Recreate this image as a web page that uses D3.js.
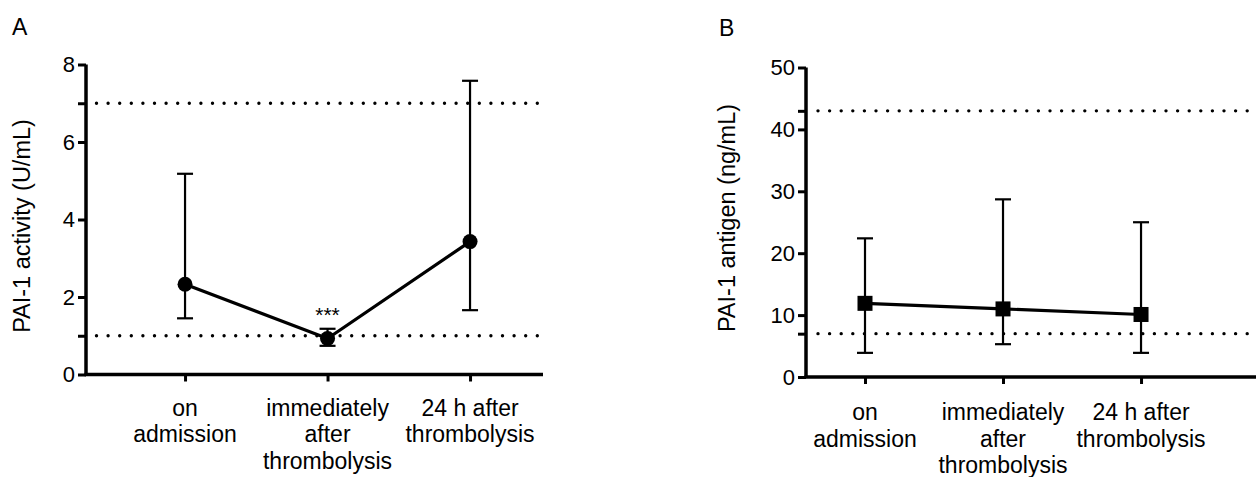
<!DOCTYPE html>
<html>
<head>
<meta charset="utf-8">
<script src="https://cdn.jsdelivr.net/npm/d3@7/dist/d3.min.js"></script>
<style>
  html, body { margin: 0; padding: 0; background: #fff; }
  svg { display: block; }
  text { font-family: "Liberation Sans", Arial, Helvetica, sans-serif; fill: #000; }
</style>
</head>
<body>
<svg id="chart" width="1257" height="477"></svg>
<script>
// ---- Data ----
const categories = [
  ["on", "admission"],
  ["immediately", "after", "thrombolysis"],
  ["24 h after", "thrombolysis"]
];

// Panel A: PAI-1 activity (U/mL)
const activityMean  = [2.33, 0.93, 3.43];
const activityLower = [1.45, 0.74, 1.66];
const activityUpper = [5.18, 1.18, 7.58];
const activityTicks = [0, 2, 4, 6, 8];
const activityRef   = [1, 7];

// Panel B: PAI-1 antigen (ng/mL)
const antigenMean  = [11.9, 11.0, 10.1];
const antigenLower = [3.9, 5.3, 3.9];
const antigenUpper = [22.4, 28.7, 25.0];
const antigenTicks = [0, 10, 20, 30, 40, 50];
const antigenRef   = [7, 43];

const svg = d3.select("#chart");

function panel(opts) {
  const g = svg.append("g");
  const x = d3.scaleLinear().domain(opts.xDomain).range(opts.xRange);
  const y = d3.scaleLinear().domain(opts.yDomain).range(opts.yRange);
  const xl = opts.xRange[0];

  // reference dotted lines
  opts.ref.forEach(v => {
    g.append("line")
      .attr("x1", xl + opts.dotStart).attr("x2", opts.xRange[1] - opts.dotEndPad)
      .attr("y1", y(v)).attr("y2", y(v))
      .attr("stroke", "#000").attr("stroke-width", 3.4)
      .attr("stroke-linecap", "round")
      .attr("stroke-dasharray", "0 11.6");
  });

  // y axis
  const yAxis = d3.axisLeft(y).tickValues(opts.yTicks).tickSize(8).tickPadding(3).tickSizeOuter(0);
  const ya = g.append("g").attr("transform", `translate(${xl},0)`).call(yAxis);
  ya.select(".domain").attr("stroke-width", 3.5).attr("d", `M0,${y(opts.yDomain[1])}V${y(0)}`);
  ya.selectAll(".tick line").attr("stroke-width", 3);
  ya.selectAll(".tick text").style("font-size", "22px").attr("fill", "#000");
  // ticks at reference levels
  const ra = g.append("g").attr("transform", `translate(${xl},0)`)
    .call(d3.axisLeft(y).tickValues(opts.ref).tickSize(8).tickFormat(""));
  ra.select(".domain").remove();
  ra.selectAll(".tick line").attr("stroke-width", 3);

  // x axis
  const xAxis = d3.axisBottom(x).tickValues([0, 1, 2]).tickSize(7).tickFormat("").tickSizeOuter(0);
  const xa = g.append("g").attr("transform", `translate(0,${y(0)})`).call(xAxis);
  xa.select(".domain").attr("stroke-width", 3.5).attr("d", `M${opts.xRange[0] - 1.5},0H${opts.xRange[1]}`);
  xa.selectAll(".tick line").attr("stroke-width", 3);

  // x category labels
  categories.forEach((lines, i) => {
    const t = g.append("text")
      .attr("x", x(i)).attr("y", y(0) + opts.labelOffset)
      .attr("text-anchor", "middle")
      .style("font-size", "23px");
    lines.forEach((ln, k) => {
      t.append("tspan").attr("x", x(i)).attr("dy", k === 0 ? 0 : 26.6).text(ln);
    });
  });

  // y title
  g.append("text")
    .attr("transform", `translate(${opts.titleX},${opts.titleY}) rotate(-90)`)
    .attr("text-anchor", "middle")
    .style("font-size", "23.5px")
    .text(opts.title);

  // panel letter
  g.append("text").attr("x", opts.letterX).attr("y", opts.letterY)
    .style("font-size", "23px").text(opts.letter);

  // error bars
  const idx = [0, 1, 2];
  const eb = g.append("g").attr("stroke", "#000").attr("stroke-width", 2.2);
  eb.selectAll("line.v").data(idx).join("line")
    .attr("x1", i => x(i)).attr("x2", i => x(i))
    .attr("y1", i => y(opts.lower[i])).attr("y2", i => y(opts.upper[i]));
  eb.selectAll("line.cu").data(idx).join("line")
    .attr("x1", i => x(i) - 8).attr("x2", i => x(i) + 8)
    .attr("y1", i => y(opts.upper[i])).attr("y2", i => y(opts.upper[i]));
  eb.selectAll("line.cl").data(idx).join("line")
    .attr("x1", i => x(i) - 8).attr("x2", i => x(i) + 8)
    .attr("y1", i => y(opts.lower[i])).attr("y2", i => y(opts.lower[i]));

  // connecting line
  g.append("path")
    .datum(opts.mean)
    .attr("fill", "none").attr("stroke", "#000").attr("stroke-width", 3.2)
    .attr("d", d3.line().x((d, i) => x(i)).y(d => y(d)));

  // markers
  if (opts.marker === "circle") {
    g.selectAll("circle.m").data(opts.mean).join("circle")
      .attr("cx", (d, i) => x(i)).attr("cy", d => y(d)).attr("r", 7.5).attr("fill", "#000");
  } else {
    g.selectAll("rect.m").data(opts.mean).join("rect")
      .attr("x", (d, i) => x(i) - 7.5).attr("y", d => y(d) - 7.5)
      .attr("width", 15).attr("height", 15).attr("fill", "#000");
  }
  return { g, x, y };
}

const A = panel({
  xDomain: [-0.695, 2.512], xRange: [86, 543],
  yDomain: [0, 8], yRange: [374.5, 64.5],
  yTicks: activityTicks, ref: activityRef,
  mean: activityMean, lower: activityLower, upper: activityUpper,
  marker: "circle", title: "PAI-1 activity (U/mL)",
  titleX: 30, titleY: 226, letter: "A", letterX: 12, letterY: 35,
  dotStart: 10.5, dotEndPad: 4, labelOffset: 41
});
// significance
A.g.append("text").attr("x", A.x(1)).attr("y", A.y(activityUpper[1]) - 7)
  .attr("text-anchor", "middle").style("font-size", "21px").text("***");

panel({
  xDomain: [-0.4275, 2.833], xRange: [806, 1256],
  yDomain: [0, 50], yRange: [377, 67.5],
  yTicks: antigenTicks, ref: antigenRef,
  mean: antigenMean, lower: antigenLower, upper: antigenUpper,
  marker: "square", title: "PAI-1 antigen (ng/mL)",
  titleX: 735, titleY: 218, letter: "B", letterX: 719, letterY: 36,
  dotStart: 12, dotEndPad: 4, labelOffset: 43
});
</script>
</body>
</html>
